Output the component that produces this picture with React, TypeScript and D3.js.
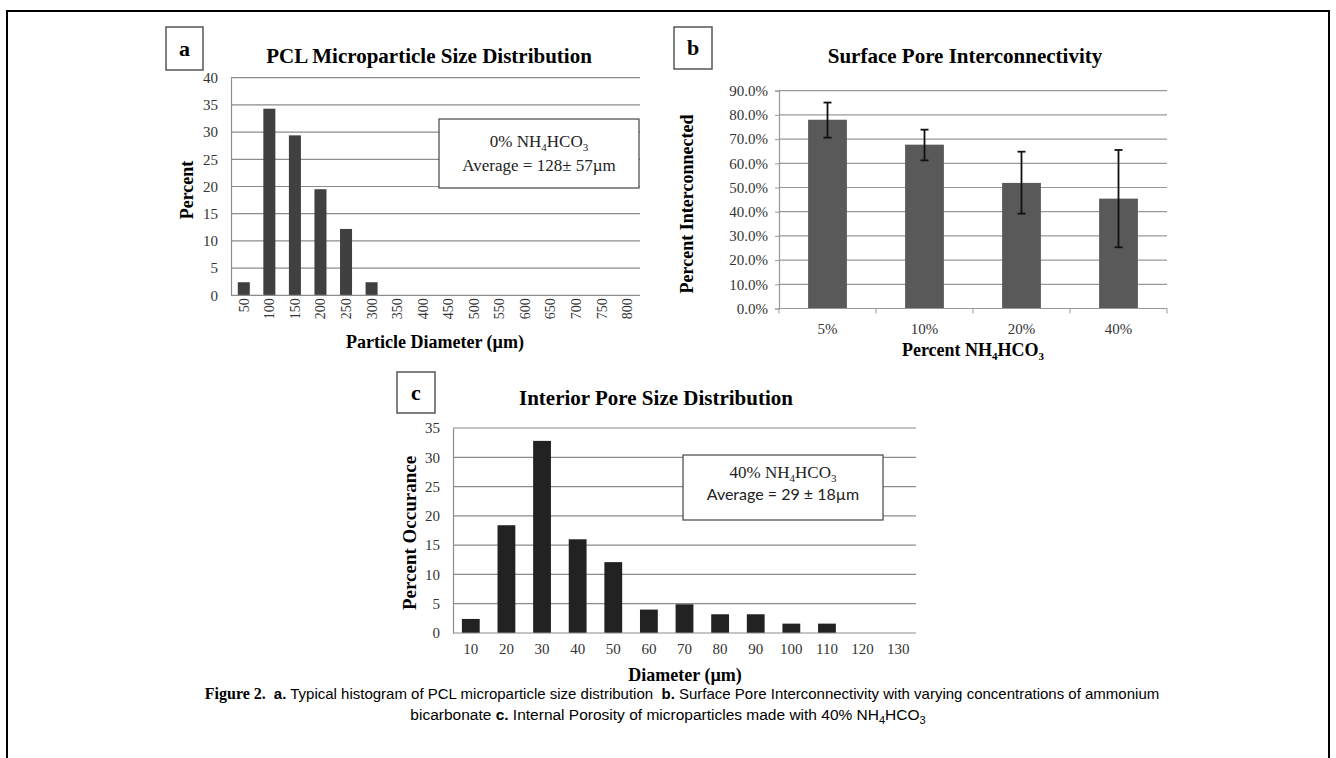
import React, { useEffect, useRef } from "react";
import * as d3 from "d3";

// panel a: PCL microparticle size distribution
const sizeBins = ["50", "100", "150", "200", "250", "300", "350", "400", "450", "500", "550", "600", "650", "700", "750", "800"];
const sizePercent = [2.4, 34.3, 29.4, 19.5, 12.2, 2.4, 0, 0, 0, 0, 0, 0, 0, 0, 0, 0];
const sizeTicks = [0, 5, 10, 15, 20, 25, 30, 35, 40];

// panel b: surface pore interconnectivity
const poreGroups = ["5%", "10%", "20%", "40%"];
const poreMean = [0.78, 0.677, 0.519, 0.454];
const poreLow = [0.706, 0.612, 0.392, 0.253];
const poreHigh = [0.851, 0.739, 0.648, 0.655];
const poreTicks = [0, 0.1, 0.2, 0.3, 0.4, 0.5, 0.6, 0.7, 0.8, 0.9];

// panel c: interior pore size distribution
const diamBins = ["10", "20", "30", "40", "50", "60", "70", "80", "90", "100", "110", "120", "130"];
const diamPercent = [2.4, 18.4, 32.8, 16.0, 12.1, 4.0, 4.9, 3.2, 3.2, 1.6, 1.6, 0, 0];
const diamTicks = [0, 5, 10, 15, 20, 25, 30, 35];

const serif = "'Liberation Serif', 'Times New Roman', serif";
const sans = "'Liberation Sans', Arial, sans-serif";

// writes text with chemical subscripts: parts alternate normal / subscript
function chem(text, parts, subSize) {
    parts.forEach((p, i) => {
        const sub = i % 2 === 1;
        text.append("tspan")
            .attr("dy", sub ? 4 : (i === 0 ? 0 : -4))
            .attr("font-size", sub ? subSize : null)
            .text(p);
    });
}

function letterBox(svg, x, y, w, h, letter) {
    svg.append("rect")
        .attr("x", x).attr("y", y).attr("width", w).attr("height", h)
        .attr("fill", "white").attr("stroke", "#555").attr("stroke-width", 1.5);
    svg.append("text")
        .attr("x", x + w / 2).attr("y", y + h / 2 + 7)
        .attr("text-anchor", "middle")
        .attr("font-family", serif).attr("font-weight", "bold").attr("font-size", 22)
        .text(letter);
}

function drawPanel(svg, opt) {
    const { left, right, top, bottom, cats, vals, max, ticks, fill, padding, gridColor } = opt;

    const x = d3.scaleBand().domain(cats).range([left, right]).paddingInner(padding).paddingOuter(padding / 2);
    const y = d3.scaleLinear().domain([0, max]).range([bottom, top]);

    const g = svg.append("g");

    // gridlines
    g.append("g")
        .selectAll("line")
        .data(ticks.slice(1))
        .join("line")
        .attr("x1", left).attr("x2", right)
        .attr("y1", d => y(d)).attr("y2", d => y(d))
        .attr("stroke", gridColor).attr("stroke-width", 1.2);

    // y axis
    const yAxis = g.append("g")
        .attr("transform", `translate(${left},0)`)
        .call(d3.axisLeft(y).tickValues(ticks).tickSize(opt.yTickSize || 0).tickPadding(opt.yPad).tickFormat(opt.yFormat || d3.format("d")));
    yAxis.select(".domain").attr("stroke", gridColor).attr("stroke-width", 1.2);
    yAxis.selectAll(".tick line").attr("stroke", gridColor);
    yAxis.selectAll("text")
        .attr("font-family", serif).attr("font-size", 15).attr("fill", "#333");

    // bars
    g.append("g")
        .selectAll("rect")
        .data(vals)
        .join("rect")
        .attr("x", (d, i) => x(cats[i]))
        .attr("width", x.bandwidth())
        .attr("y", d => y(d))
        .attr("height", d => bottom - y(d))
        .attr("fill", fill);

    // x axis
    const xAxis = g.append("g")
        .attr("transform", `translate(0,${bottom})`)
        .call(d3.axisBottom(x).tickSize(0).tickPadding(opt.xPad || 8).tickSizeOuter(0));
    xAxis.select(".domain").attr("stroke", gridColor).attr("stroke-width", 1.2).attr("d", `M${left},0H${right}`);
    xAxis.selectAll("text")
        .attr("font-family", serif).attr("font-size", opt.xFont || 15).attr("fill", "#333");
    if (opt.rotate) {
        xAxis.selectAll("text")
            .attr("transform", "rotate(-90)")
            .attr("text-anchor", "end")
            .attr("x", -3).attr("y", 0).attr("dy", "0.35em");
    }
    if (opt.boundaryTicks) {
        g.append("g")
            .selectAll("line")
            .data(d3.range(cats.length + 1))
            .join("line")
            .attr("x1", i => left + i * x.step()).attr("x2", i => left + i * x.step())
            .attr("y1", bottom).attr("y2", bottom + 5)
            .attr("stroke", gridColor);
    }
    return { x, y };
}

function App() {
    const svgRef = useRef(null);

    useEffect(() => {
        const svg = d3.select(svgRef.current);
        svg.selectAll("*").remove();

        // outer frame
        svg.append("rect")
            .attr("x", 7).attr("y", 11).attr("width", 1322).attr("height", 760)
            .attr("fill", "none").attr("stroke", "black").attr("stroke-width", 2);

        const title = (x, y, t) => svg.append("text")
            .attr("x", x).attr("y", y).attr("text-anchor", "middle")
            .attr("font-family", serif).attr("font-weight", "bold").attr("font-size", 21)
            .text(t);
        const axisTitle = (x, y, rot, size = 18) => svg.append("text")
            .attr("transform", `translate(${x},${y})${rot ? " rotate(-90)" : ""}`)
            .attr("text-anchor", "middle")
            .attr("font-family", serif).attr("font-weight", "bold").attr("font-size", size);

        // ---- panel a
        letterBox(svg, 166, 27, 37, 43, "a");
        title(429, 63, "PCL Microparticle Size Distribution");
        drawPanel(svg, {
            left: 231, right: 640, top: 77.7, bottom: 295.3,
            cats: sizeBins, vals: sizePercent, max: 40, ticks: sizeTicks,
            fill: "#404040", padding: 0.53, gridColor: "#8c8c8c", yPad: 13,
            rotate: true, xFont: 14
        });
        axisTitle(193, 190, true).text("Percent");
        axisTitle(435, 348, false).text("Particle Diameter (µm)");
        svg.append("rect")
            .attr("x", 439).attr("y", 119).attr("width", 200).attr("height", 69)
            .attr("fill", "white").attr("stroke", "#444").attr("stroke-width", 1.2);
        const aNote = svg.append("text")
            .attr("x", 539).attr("y", 147).attr("text-anchor", "middle")
            .attr("font-family", serif).attr("font-size", 17).attr("fill", "#222");
        chem(aNote, ["0% NH", "4", "HCO", "3"], 11);
        svg.append("text")
            .attr("x", 539).attr("y", 171).attr("text-anchor", "middle")
            .attr("font-family", serif).attr("font-size", 17).attr("fill", "#222")
            .text("Average = 128± 57µm");

        // ---- panel b
        letterBox(svg, 674, 27, 38, 42, "b");
        title(965, 63, "Surface Pore Interconnectivity");
        const b = drawPanel(svg, {
            left: 779, right: 1167, top: 90.7, bottom: 308.5,
            cats: poreGroups, vals: poreMean, max: 0.9, ticks: poreTicks,
            fill: "#595959", padding: 0.6, gridColor: "#999", yPad: 7, yTickSize: 4,
            yFormat: d3.format(".1%"), xPad: 15, boundaryTicks: true
        });
        const eb = svg.append("g").attr("stroke", "#111").attr("stroke-width", 1.8);
        poreGroups.forEach((c, i) => {
            const cx = b.x(c) + b.x.bandwidth() / 2;
            eb.append("line").attr("x1", cx).attr("x2", cx).attr("y1", b.y(poreLow[i])).attr("y2", b.y(poreHigh[i]));
            eb.append("line").attr("x1", cx - 4).attr("x2", cx + 4).attr("y1", b.y(poreLow[i])).attr("y2", b.y(poreLow[i]));
            eb.append("line").attr("x1", cx - 4).attr("x2", cx + 4).attr("y1", b.y(poreHigh[i])).attr("y2", b.y(poreHigh[i]));
        });
        axisTitle(693, 204, true, 18).text("Percent Interconnected");
        const bx = axisTitle(973, 356, false);
        chem(bx, ["Percent NH", "4", "HCO", "3"], 11);

        // ---- panel c
        letterBox(svg, 397, 372, 38, 41, "c");
        title(656, 405, "Interior Pore Size Distribution");
        drawPanel(svg, {
            left: 453, right: 916, top: 428, bottom: 633,
            cats: diamBins, vals: diamPercent, max: 35, ticks: diamTicks,
            fill: "#222", padding: 0.5, gridColor: "#8c8c8c", yPad: 13, xPad: 10
        });
        axisTitle(416, 533, true, 19).text("Percent Occurance");
        axisTitle(685, 681, false).text("Diameter (µm)");
        svg.append("rect")
            .attr("x", 683).attr("y", 455).attr("width", 200).attr("height", 65)
            .attr("fill", "white").attr("stroke", "#444").attr("stroke-width", 1.2);
        const cNote = svg.append("text")
            .attr("x", 783).attr("y", 478).attr("text-anchor", "middle")
            .attr("font-family", serif).attr("font-size", 17).attr("fill", "#222");
        chem(cNote, ["40% NH", "4", "HCO", "3"], 11);
        svg.append("text")
            .attr("x", 783).attr("y", 500).attr("text-anchor", "middle")
            .attr("font-family", "Lato, sans-serif").attr("font-size", 16).attr("fill", "#222")
            .text("Average = 29 ± 18µm");

        // ---- caption
        const cap1 = svg.append("text")
            .attr("x", 682).attr("y", 699).attr("text-anchor", "middle")
            .attr("font-family", sans).attr("font-size", 15)
            .style("white-space", "pre");
        cap1.append("tspan").attr("font-family", serif).attr("font-weight", "bold").attr("font-size", 16).text("Figure 2.  ");
        cap1.append("tspan").attr("font-weight", "bold").text("a.");
        cap1.append("tspan").text(" Typical histogram of PCL microparticle size distribution  ");
        cap1.append("tspan").attr("font-weight", "bold").text("b.");
        cap1.append("tspan").text(" Surface Pore Interconnectivity with varying concentrations of ammonium");
        const cap2 = svg.append("text")
            .attr("x", 668).attr("y", 720).attr("text-anchor", "middle")
            .attr("font-family", sans).attr("font-size", 15.5);
        cap2.append("tspan").text("bicarbonate ");
        cap2.append("tspan").attr("font-weight", "bold").text("c.");
        chem(cap2, [" Internal Porosity of microparticles made with 40% NH", "4", "HCO", "3"], 11);
    }, []);

    return (
        <svg ref={svgRef} width={1336} height={758}
            style={{ position: "absolute", left: 0, top: 0, background: "white" }} />
    );
}

export default App;
